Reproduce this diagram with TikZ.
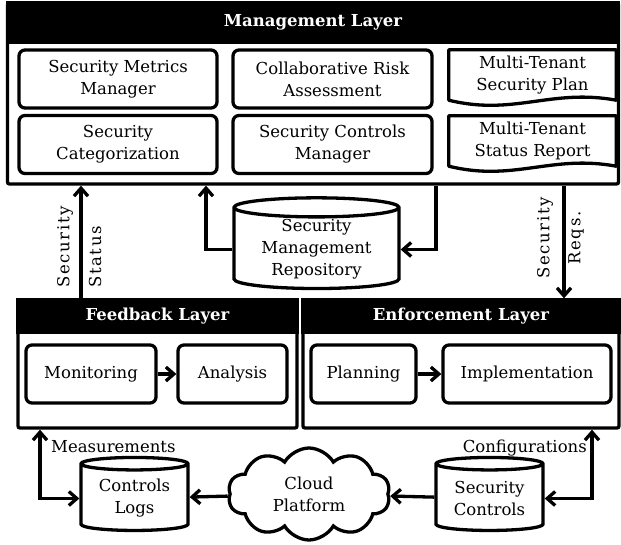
\documentclass[tikz,border=0pt]{standalone}
\usepackage{fontspec}
\setmainfont{DejaVu Serif}
\usetikzlibrary{positioning,shapes.geometric,shapes.symbols,arrows.meta}

\newcommand{\dgfont}{\fontsize{16.5}{22}\selectfont}

\tikzset{
    inbox/.style={draw, line width=3.3pt, rounded corners=6pt, align=center, inner sep=2pt},
    layer/.style={draw, line width=3.3pt, rounded corners=2pt},
    layerhead/.style={draw, fill=black, line width=3.3pt, text=white, font=\dgfont\bfseries, anchor=north},
    docbox/.style={align=center, inner sep=1pt},
    docline/.style={draw, line width=3.3pt, line join=round},
    store/.style={draw, line width=3.3pt, cylinder, shape border rotate=90, aspect=0.17, align=center, inner sep=1pt},
    cloudnode/.style={draw, line width=3.3pt, cloud, cloud puffs=10, cloud puff arc=120, aspect=1.76, align=center},
    flow/.style={line width=3.3pt, -{Straight Barb[length=8pt,width=14pt]}},
    flowboth/.style={line width=3.3pt, {Straight Barb[length=8pt,width=14pt]}-{Straight Barb[length=8pt,width=14pt]}},
    vlabel/.style={rotate=90, inner sep=0pt, font=\dgfont\addfontfeature{LetterSpace=10}}
}

\begin{document}
\begin{tikzpicture}[x=1pt, y=-1pt, font=\dgfont]

    \useasboundingbox (0,0) rectangle (621,544);

    % management layer
    \node[layer, minimum width=611pt, minimum height=181pt] (mgmt) at (313,93.5) {};
    \node[layerhead, minimum width=611pt, minimum height=39pt] (mgmthead) at (mgmt.north) {Management Layer};

    \node[inbox, minimum width=198pt, minimum height=58pt] (metrics) at (118,79) {Security Metrics\\Manager};
    \node[inbox, minimum width=198pt, minimum height=58pt] (categ) at (118,144.5) {Security\\Categorization};
    \node[inbox, minimum width=199pt, minimum height=58pt] (risk) at (332.5,79) {Collaborative Risk\\Assessment};
    \node[inbox, minimum width=199pt, minimum height=58pt] (ctrlmgr) at (332.5,144.5) {Security Controls\\Manager};

    \node[docbox, minimum width=167pt, minimum height=50pt] (plan) at (532.5,75) {Multi-Tenant\\Security Plan};
    \node[docbox, minimum width=167pt, minimum height=50pt] (report) at (532.5,141) {Multi-Tenant\\Status Report};
    \draw[docline] (plan.south east) .. controls +(-65,-12) and +(65,16) .. (plan.south west)
        -- (plan.north west) -- (plan.north east) -- cycle;
    \draw[docline] (report.south east) .. controls +(-65,-12) and +(65,16) .. (report.south west)
        -- (report.north west) -- (report.north east) -- cycle;

    % repository
    \node[store, minimum width=165pt, minimum height=81pt] (repo) at (316.5,249.5) {Security\\Management\\Repository};

    % feedback and enforcement layers
    \node[layer, minimum width=279pt, minimum height=128pt] (fb) at (157.5,364) {};
    \node[layerhead, minimum width=279pt, minimum height=32pt] (fbhead) at (fb.north) {Feedback Layer};
    \node[layer, minimum width=316pt, minimum height=128pt] (enf) at (461,364) {};
    \node[layerhead, minimum width=316pt, minimum height=32pt] (enfhead) at (enf.north) {Enforcement Layer};

    \node[inbox, minimum width=130pt, minimum height=58pt] (monitor) at (91,374) {Monitoring};
    \node[inbox, minimum width=109pt, minimum height=58pt] (analysis) at (232.5,374) {Analysis};
    \node[inbox, minimum width=105pt, minimum height=58pt] (planning) at (363.5,374) {Planning};
    \node[inbox, minimum width=168pt, minimum height=58pt] (implement) at (527,374) {Implementation};

    % cloud side
    \node[store, minimum width=107pt, minimum height=73pt] (logs) at (134.5,498.5) {Controls\\Logs};
    \node[cloudnode, minimum width=162pt, minimum height=92pt] (cloud) at (309,494) {Cloud\\Platform};
    \node[store, minimum width=107pt, minimum height=73pt] (secctl) at (489.5,498.5) {Security\\Controls};

    % connectors
    \coordinate (statx) at (81,0);
    \coordinate (repupx) at (206,0);
    \coordinate (repdnx) at (436,0);
    \coordinate (reqx) at (564,0);
    \coordinate (measx) at (40,0);
    \coordinate (confx) at (592,0);

    \draw[flow] (fb.north -| statx) -- (mgmt.south -| statx);
    \draw[flow] (repo.west) -| (mgmt.south -| repupx);
    \draw[flow] (mgmt.south -| repdnx) |- (repo.east);
    \draw[flow] (mgmt.south -| reqx) -- (enf.north -| reqx);
    \draw[flow] (monitor) -- (analysis);
    \draw[flow] (planning) -- (implement);
    \draw[flow] (secctl) -- (cloud);
    \draw[flow] (cloud) -- (logs);
    \draw[flowboth] (logs.west) -| (fb.south -| measx);
    \draw[flowboth] (secctl.east) -| (enf.south -| confx);

    % labels
    \node[vlabel, anchor=west] (stat1) at (65,288) {Security};
    \node[vlabel, anchor=west] (stat2) at (95,288) {Status};
    \node[vlabel] (req1) at (545,238) {Security};
    \node[vlabel] (req2) at (576,238) {Reqs.};
    \node[anchor=west, inner sep=1pt] (meas) at (50,447) {Measurements};
    \node[anchor=east, inner sep=1pt] (conf) at (588,448) {Configurations};

\end{tikzpicture}
\end{document}
